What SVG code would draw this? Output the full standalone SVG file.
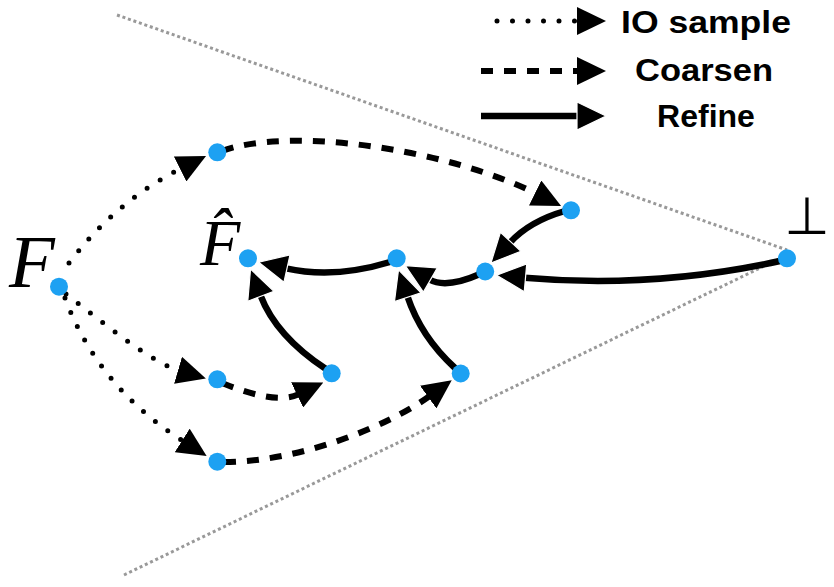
<svg xmlns="http://www.w3.org/2000/svg" width="834" height="587" viewBox="0 0 834 587">
<style>
.bg{fill:#fff}
.guide{fill:none;stroke:#999;stroke-width:3;stroke-dasharray:3 2.8}
.io{fill:none;stroke:#000;stroke-width:5;stroke-linecap:round;stroke-dasharray:0 15.5;marker-end:url(#ah)}
.co{fill:none;stroke:#000;stroke-width:6;stroke-dasharray:12 11;marker-end:url(#ah)}
.re{fill:none;stroke:#000;stroke-width:6.5;marker-end:url(#ahw)}
.node{fill:#1DA1F2}
.leg{font-family:"Liberation Sans",Arial,sans-serif;font-weight:bold;font-size:32px;fill:#000;text-anchor:middle}
.math{font-family:"Liberation Serif","Times New Roman",serif;font-style:italic;fill:#000}
</style>
<defs>
<marker id="ah" markerUnits="userSpaceOnUse" viewBox="0 0 29 28" markerWidth="29" markerHeight="28" refX="1" refY="14" orient="auto">
<path d="M0,0 L29,14 L0,28 z" fill="#000"/>
</marker>
<marker id="ahw" markerUnits="userSpaceOnUse" viewBox="-1 -1 31 30" markerWidth="31" markerHeight="30" refX="1" refY="14" orient="auto">
<path d="M0,0 L29,14 L0,28 z" fill="#000" stroke="#fff" stroke-width="1.2"/>
</marker>
</defs>
<rect class="bg" x="0" y="0" width="834" height="587"/>
<g id="guides">
<path class="guide" d="M117 15 L787 250"/>
<path class="guide" d="M124 575 L787 255"/>
</g>
<g id="legend">
<path class="io" d="M497 21 L578 21"/>
<path class="co" d="M481 71 L578 71"/>
<path class="re" d="M481 116 L578 116"/>
<text class="leg" x="706" y="33" textLength="170" lengthAdjust="spacingAndGlyphs">IO sample</text>
<text class="leg" x="704" y="81" textLength="138" lengthAdjust="spacingAndGlyphs">Coarsen</text>
<text class="leg" x="706" y="127">Refine</text>
</g>
<g id="connectors">
<path class="io" d="M69 263 Q116 201 181 168.5"/>
<path class="io" d="M66 294 C100 320 150 362 179 370.5"/>
<path class="io" d="M65 298 Q98 387 183 441"/>
<path class="co" d="M222 151 C290 126 446 149 536 193.5"/>
<path class="co" d="M222 383 Q276 405 298 394.5"/>
<path class="co" d="M224 462 C300 462 388 426 429 396.5"/>
<path class="re" d="M565 211 Q530 221 510 242.5"/>
<path class="re" d="M780 261 Q652 289 524.5 277.7"/>
<path class="re" d="M480 274 Q446 289 429.5 279.5"/>
<path class="re" d="M390 262 Q334 279 286 268.3"/>
<path class="re" d="M326 369 Q276 336 260.5 295.3"/>
<path class="re" d="M455 368 Q421 337 407.4 296.3"/>
</g>
<g id="node-F">
<text class="math" x="9" y="287" font-size="75">F</text>
<circle class="node" cx="59" cy="286.7" r="9"/>
</g>
<g id="node-a1"><circle class="node" cx="217.3" cy="152.3" r="9"/></g>
<g id="node-a2"><circle class="node" cx="217.3" cy="379.3" r="9"/></g>
<g id="node-a3"><circle class="node" cx="217.3" cy="461.7" r="9"/></g>
<g id="node-b1"><circle class="node" cx="571" cy="210.3" r="9"/></g>
<g id="node-c"><circle class="node" cx="396.7" cy="258.3" r="9"/></g>
<g id="node-d"><circle class="node" cx="485.2" cy="271.5" r="9"/></g>
<g id="node-e"><circle class="node" cx="331.7" cy="373.3" r="9"/></g>
<g id="node-g"><circle class="node" cx="460.7" cy="373.5" r="9"/></g>
<g id="node-Fhat">
<text class="math" x="200" y="265" font-size="66">F̂</text>
<circle class="node" cx="248" cy="258.3" r="9"/>
</g>
<g id="node-bottom">
<text x="807" y="234" font-family="DejaVu Sans,sans-serif" font-size="52" text-anchor="middle">⊥</text>
<circle class="node" cx="787" cy="258.3" r="9"/>
</g>
</svg>
